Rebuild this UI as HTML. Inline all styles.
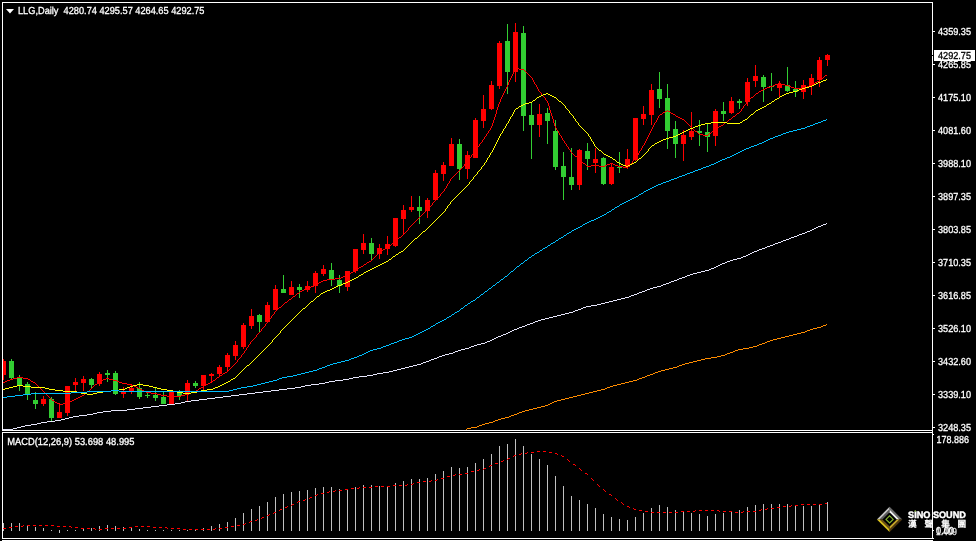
<!DOCTYPE html>
<html lang="en"><head><meta charset="utf-8"><title>LLG Daily</title>
<style>html,body{margin:0;padding:0;background:#000;}body{width:976px;height:541px;overflow:hidden;position:relative;font-family:"Liberation Sans","Noto Sans CJK TC",sans-serif;}svg{position:absolute;left:0;top:0;display:block}text{font-family:"Liberation Sans","Noto Sans CJK TC",sans-serif;}.t{font-size:10.17px;fill:#fff;stroke:#fff;stroke-width:.3px;text-rendering:geometricPrecision;white-space:pre}</style></head><body>
<svg width="976" height="541" viewBox="0 0 976 541">
<rect width="976" height="541" fill="#000"/>
<defs><clipPath id="cm"><rect x="3" y="3" width="929" height="427"/></clipPath><clipPath id="cs"><rect x="3" y="433" width="929" height="105"/></clipPath></defs>
<g shape-rendering="crispEdges" clip-path="url(#cm)">
<rect x="3" y="359" width="1" height="21" fill="#ff0000"/>
<rect x="1" y="361" width="5" height="14" fill="#ff0000"/>
<rect x="11" y="359" width="1" height="20" fill="#32cd32"/>
<rect x="9" y="361" width="5" height="17" fill="#32cd32"/>
<rect x="19" y="375" width="1" height="16" fill="#32cd32"/>
<rect x="17" y="378" width="5" height="8" fill="#32cd32"/>
<rect x="27" y="382" width="1" height="18" fill="#32cd32"/>
<rect x="25" y="384" width="5" height="10" fill="#32cd32"/>
<rect x="35" y="392" width="1" height="17" fill="#32cd32"/>
<rect x="33" y="400" width="5" height="4" fill="#32cd32"/>
<rect x="43" y="396" width="1" height="10" fill="#ff0000"/>
<rect x="41" y="399" width="5" height="5" fill="#ff0000"/>
<rect x="51" y="397" width="1" height="24" fill="#32cd32"/>
<rect x="49" y="399" width="5" height="19" fill="#32cd32"/>
<rect x="59" y="403" width="1" height="15" fill="#ff0000"/>
<rect x="57" y="412" width="5" height="6" fill="#ff0000"/>
<rect x="67" y="386" width="1" height="30" fill="#ff0000"/>
<rect x="65" y="386" width="5" height="27" fill="#ff0000"/>
<rect x="75" y="378" width="1" height="14" fill="#ff0000"/>
<rect x="73" y="382" width="5" height="3" fill="#ff0000"/>
<rect x="83" y="376" width="1" height="15" fill="#ff0000"/>
<rect x="81" y="379" width="5" height="4" fill="#ff0000"/>
<rect x="91" y="378" width="1" height="11" fill="#32cd32"/>
<rect x="89" y="379" width="5" height="6" fill="#32cd32"/>
<rect x="99" y="372" width="1" height="14" fill="#ff0000"/>
<rect x="97" y="374" width="5" height="10" fill="#ff0000"/>
<rect x="107" y="370" width="1" height="12" fill="#32cd32"/>
<rect x="105" y="373" width="5" height="2" fill="#32cd32"/>
<rect x="115" y="371" width="1" height="24" fill="#32cd32"/>
<rect x="113" y="373" width="5" height="21" fill="#32cd32"/>
<rect x="123" y="387" width="1" height="11" fill="#ff0000"/>
<rect x="121" y="392" width="5" height="2" fill="#ff0000"/>
<rect x="131" y="384" width="1" height="10" fill="#ff0000"/>
<rect x="129" y="388" width="5" height="3" fill="#ff0000"/>
<rect x="139" y="382" width="1" height="17" fill="#32cd32"/>
<rect x="137" y="388" width="5" height="9" fill="#32cd32"/>
<rect x="147" y="392" width="1" height="6" fill="#32cd32"/>
<rect x="145" y="395" width="5" height="1" fill="#32cd32"/>
<rect x="155" y="388" width="1" height="13" fill="#32cd32"/>
<rect x="153" y="395" width="5" height="3" fill="#32cd32"/>
<rect x="163" y="392" width="1" height="12" fill="#32cd32"/>
<rect x="161" y="397" width="5" height="7" fill="#32cd32"/>
<rect x="171" y="392" width="1" height="12" fill="#ff0000"/>
<rect x="169" y="392" width="5" height="12" fill="#ff0000"/>
<rect x="179" y="390" width="1" height="10" fill="#32cd32"/>
<rect x="177" y="392" width="5" height="4" fill="#32cd32"/>
<rect x="187" y="380" width="1" height="22" fill="#ff0000"/>
<rect x="185" y="383" width="5" height="11" fill="#ff0000"/>
<rect x="195" y="381" width="1" height="7" fill="#32cd32"/>
<rect x="193" y="383" width="5" height="3" fill="#32cd32"/>
<rect x="203" y="375" width="1" height="16" fill="#ff0000"/>
<rect x="201" y="375" width="5" height="11" fill="#ff0000"/>
<rect x="211" y="373" width="1" height="9" fill="#ff0000"/>
<rect x="209" y="374" width="5" height="2" fill="#ff0000"/>
<rect x="219" y="365" width="1" height="12" fill="#ff0000"/>
<rect x="217" y="367" width="5" height="7" fill="#ff0000"/>
<rect x="227" y="353" width="1" height="18" fill="#ff0000"/>
<rect x="225" y="355" width="5" height="12" fill="#ff0000"/>
<rect x="235" y="341" width="1" height="19" fill="#ff0000"/>
<rect x="233" y="345" width="5" height="11" fill="#ff0000"/>
<rect x="243" y="323" width="1" height="26" fill="#ff0000"/>
<rect x="241" y="325" width="5" height="22" fill="#ff0000"/>
<rect x="251" y="309" width="1" height="20" fill="#ff0000"/>
<rect x="249" y="316" width="5" height="10" fill="#ff0000"/>
<rect x="259" y="314" width="1" height="19" fill="#32cd32"/>
<rect x="257" y="315" width="5" height="7" fill="#32cd32"/>
<rect x="267" y="302" width="1" height="21" fill="#ff0000"/>
<rect x="265" y="305" width="5" height="17" fill="#ff0000"/>
<rect x="275" y="285" width="1" height="25" fill="#ff0000"/>
<rect x="273" y="289" width="5" height="21" fill="#ff0000"/>
<rect x="283" y="275" width="1" height="18" fill="#32cd32"/>
<rect x="281" y="289" width="5" height="4" fill="#32cd32"/>
<rect x="291" y="281" width="1" height="14" fill="#ff0000"/>
<rect x="289" y="287" width="5" height="8" fill="#ff0000"/>
<rect x="299" y="284" width="1" height="14" fill="#32cd32"/>
<rect x="297" y="287" width="5" height="3" fill="#32cd32"/>
<rect x="307" y="281" width="1" height="11" fill="#ff0000"/>
<rect x="305" y="286" width="5" height="4" fill="#ff0000"/>
<rect x="315" y="271" width="1" height="22" fill="#ff0000"/>
<rect x="313" y="273" width="5" height="13" fill="#ff0000"/>
<rect x="323" y="265" width="1" height="11" fill="#ff0000"/>
<rect x="321" y="269" width="5" height="5" fill="#ff0000"/>
<rect x="331" y="263" width="1" height="23" fill="#32cd32"/>
<rect x="329" y="270" width="5" height="10" fill="#32cd32"/>
<rect x="339" y="275" width="1" height="18" fill="#32cd32"/>
<rect x="337" y="280" width="5" height="6" fill="#32cd32"/>
<rect x="347" y="271" width="1" height="20" fill="#ff0000"/>
<rect x="345" y="271" width="5" height="16" fill="#ff0000"/>
<rect x="355" y="249" width="1" height="24" fill="#ff0000"/>
<rect x="353" y="249" width="5" height="22" fill="#ff0000"/>
<rect x="363" y="234" width="1" height="20" fill="#ff0000"/>
<rect x="361" y="243" width="5" height="7" fill="#ff0000"/>
<rect x="371" y="238" width="1" height="22" fill="#32cd32"/>
<rect x="369" y="243" width="5" height="11" fill="#32cd32"/>
<rect x="379" y="244" width="1" height="15" fill="#ff0000"/>
<rect x="377" y="248" width="5" height="6" fill="#ff0000"/>
<rect x="387" y="236" width="1" height="19" fill="#ff0000"/>
<rect x="385" y="244" width="5" height="5" fill="#ff0000"/>
<rect x="395" y="218" width="1" height="29" fill="#ff0000"/>
<rect x="393" y="218" width="5" height="28" fill="#ff0000"/>
<rect x="403" y="205" width="1" height="30" fill="#ff0000"/>
<rect x="401" y="210" width="5" height="9" fill="#ff0000"/>
<rect x="411" y="196" width="1" height="16" fill="#ff0000"/>
<rect x="409" y="207" width="5" height="3" fill="#ff0000"/>
<rect x="419" y="196" width="1" height="28" fill="#32cd32"/>
<rect x="417" y="207" width="5" height="4" fill="#32cd32"/>
<rect x="427" y="198" width="1" height="20" fill="#ff0000"/>
<rect x="425" y="200" width="5" height="11" fill="#ff0000"/>
<rect x="435" y="170" width="1" height="30" fill="#ff0000"/>
<rect x="433" y="173" width="5" height="27" fill="#ff0000"/>
<rect x="443" y="162" width="1" height="19" fill="#ff0000"/>
<rect x="441" y="165" width="5" height="9" fill="#ff0000"/>
<rect x="451" y="138" width="1" height="28" fill="#ff0000"/>
<rect x="449" y="144" width="5" height="22" fill="#ff0000"/>
<rect x="459" y="139" width="1" height="41" fill="#32cd32"/>
<rect x="457" y="144" width="5" height="25" fill="#32cd32"/>
<rect x="467" y="151" width="1" height="28" fill="#ff0000"/>
<rect x="465" y="155" width="5" height="14" fill="#ff0000"/>
<rect x="475" y="118" width="1" height="40" fill="#ff0000"/>
<rect x="473" y="120" width="5" height="38" fill="#ff0000"/>
<rect x="483" y="95" width="1" height="33" fill="#ff0000"/>
<rect x="481" y="109" width="5" height="12" fill="#ff0000"/>
<rect x="491" y="81" width="1" height="29" fill="#ff0000"/>
<rect x="489" y="85" width="5" height="24" fill="#ff0000"/>
<rect x="499" y="41" width="1" height="48" fill="#ff0000"/>
<rect x="497" y="43" width="5" height="43" fill="#ff0000"/>
<rect x="507" y="24" width="1" height="70" fill="#32cd32"/>
<rect x="505" y="41" width="5" height="31" fill="#32cd32"/>
<rect x="515" y="23" width="1" height="59" fill="#ff0000"/>
<rect x="513" y="32" width="5" height="40" fill="#ff0000"/>
<rect x="523" y="26" width="1" height="105" fill="#32cd32"/>
<rect x="521" y="33" width="5" height="83" fill="#32cd32"/>
<rect x="531" y="102" width="1" height="57" fill="#32cd32"/>
<rect x="529" y="115" width="5" height="10" fill="#32cd32"/>
<rect x="539" y="104" width="1" height="33" fill="#ff0000"/>
<rect x="537" y="114" width="5" height="11" fill="#ff0000"/>
<rect x="547" y="108" width="1" height="36" fill="#32cd32"/>
<rect x="545" y="113" width="5" height="8" fill="#32cd32"/>
<rect x="555" y="120" width="1" height="50" fill="#32cd32"/>
<rect x="553" y="131" width="5" height="36" fill="#32cd32"/>
<rect x="563" y="152" width="1" height="48" fill="#32cd32"/>
<rect x="561" y="166" width="5" height="11" fill="#32cd32"/>
<rect x="571" y="148" width="1" height="42" fill="#32cd32"/>
<rect x="569" y="177" width="5" height="8" fill="#32cd32"/>
<rect x="579" y="149" width="1" height="41" fill="#ff0000"/>
<rect x="577" y="150" width="5" height="35" fill="#ff0000"/>
<rect x="587" y="143" width="1" height="27" fill="#32cd32"/>
<rect x="585" y="151" width="5" height="8" fill="#32cd32"/>
<rect x="595" y="148" width="1" height="25" fill="#ff0000"/>
<rect x="593" y="159" width="5" height="4" fill="#ff0000"/>
<rect x="603" y="157" width="1" height="28" fill="#32cd32"/>
<rect x="601" y="158" width="5" height="26" fill="#32cd32"/>
<rect x="611" y="163" width="1" height="22" fill="#ff0000"/>
<rect x="609" y="167" width="5" height="17" fill="#ff0000"/>
<rect x="619" y="152" width="1" height="21" fill="#32cd32"/>
<rect x="617" y="167" width="5" height="1" fill="#32cd32"/>
<rect x="627" y="149" width="1" height="20" fill="#ff0000"/>
<rect x="625" y="159" width="5" height="8" fill="#ff0000"/>
<rect x="635" y="118" width="1" height="43" fill="#ff0000"/>
<rect x="633" y="118" width="5" height="42" fill="#ff0000"/>
<rect x="643" y="106" width="1" height="19" fill="#ff0000"/>
<rect x="641" y="114" width="5" height="5" fill="#ff0000"/>
<rect x="651" y="84" width="1" height="41" fill="#ff0000"/>
<rect x="649" y="90" width="5" height="25" fill="#ff0000"/>
<rect x="659" y="72" width="1" height="36" fill="#32cd32"/>
<rect x="657" y="89" width="5" height="10" fill="#32cd32"/>
<rect x="667" y="84" width="1" height="65" fill="#32cd32"/>
<rect x="665" y="98" width="5" height="33" fill="#32cd32"/>
<rect x="675" y="121" width="1" height="37" fill="#32cd32"/>
<rect x="673" y="129" width="5" height="15" fill="#32cd32"/>
<rect x="683" y="130" width="1" height="31" fill="#ff0000"/>
<rect x="681" y="135" width="5" height="9" fill="#ff0000"/>
<rect x="691" y="112" width="1" height="28" fill="#ff0000"/>
<rect x="689" y="131" width="5" height="6" fill="#ff0000"/>
<rect x="699" y="120" width="1" height="26" fill="#32cd32"/>
<rect x="697" y="131" width="5" height="2" fill="#32cd32"/>
<rect x="707" y="124" width="1" height="28" fill="#32cd32"/>
<rect x="705" y="132" width="5" height="5" fill="#32cd32"/>
<rect x="715" y="109" width="1" height="37" fill="#ff0000"/>
<rect x="713" y="111" width="5" height="25" fill="#ff0000"/>
<rect x="723" y="102" width="1" height="19" fill="#32cd32"/>
<rect x="721" y="111" width="5" height="3" fill="#32cd32"/>
<rect x="731" y="97" width="1" height="17" fill="#ff0000"/>
<rect x="729" y="101" width="5" height="12" fill="#ff0000"/>
<rect x="739" y="99" width="1" height="10" fill="#32cd32"/>
<rect x="737" y="101" width="5" height="2" fill="#32cd32"/>
<rect x="747" y="78" width="1" height="28" fill="#ff0000"/>
<rect x="745" y="82" width="5" height="20" fill="#ff0000"/>
<rect x="755" y="65" width="1" height="22" fill="#ff0000"/>
<rect x="753" y="76" width="5" height="5" fill="#ff0000"/>
<rect x="763" y="75" width="1" height="27" fill="#32cd32"/>
<rect x="761" y="77" width="5" height="10" fill="#32cd32"/>
<rect x="771" y="73" width="1" height="18" fill="#32cd32"/>
<rect x="769" y="86" width="5" height="1" fill="#32cd32"/>
<rect x="779" y="81" width="1" height="17" fill="#ff0000"/>
<rect x="777" y="84" width="5" height="4" fill="#ff0000"/>
<rect x="787" y="67" width="1" height="25" fill="#32cd32"/>
<rect x="785" y="85" width="5" height="6" fill="#32cd32"/>
<rect x="795" y="81" width="1" height="16" fill="#32cd32"/>
<rect x="793" y="89" width="5" height="3" fill="#32cd32"/>
<rect x="803" y="80" width="1" height="19" fill="#ff0000"/>
<rect x="801" y="85" width="5" height="7" fill="#ff0000"/>
<rect x="811" y="74" width="1" height="21" fill="#ff0000"/>
<rect x="809" y="78" width="5" height="8" fill="#ff0000"/>
<rect x="819" y="57" width="1" height="30" fill="#ff0000"/>
<rect x="817" y="60" width="5" height="20" fill="#ff0000"/>
<rect x="827" y="54" width="1" height="12" fill="#ff0000"/>
<rect x="825" y="55" width="5" height="5" fill="#ff0000"/>
</g>
<g shape-rendering="crispEdges" clip-path="url(#cm)">
<path d="M515 68h4v1h-4zM519 69h5v1h-5zM825 75h2v1h-2zM821 78h2v1h-2zM817 81h2v1h-2zM815 82h2v1h-2zM778 83h3v1h-3zM775 84h3v1h-3zM781 84h4v1h-4zM812 84h2v1h-2zM773 85h2v1h-2zM785 85h4v1h-4zM810 85h2v1h-2zM770 86h3v1h-3zM789 86h2v1h-2zM807 86h3v1h-3zM767 87h3v1h-3zM791 87h3v1h-3zM805 87h2v1h-2zM765 88h2v1h-2zM794 88h11v1h-11zM763 89h2v1h-2zM761 90h2v1h-2zM759 91h2v1h-2zM756 93h2v1h-2zM751 97h2v1h-2zM665 111h2v1h-2zM668 111h2v1h-2zM663 112h2v1h-2zM671 113h2v1h-2zM737 113h2v1h-2zM660 114h2v1h-2zM673 114h2v1h-2zM676 116h2v1h-2zM733 116h2v1h-2zM678 117h2v1h-2zM680 118h2v1h-2zM682 119h2v1h-2zM729 119h2v1h-2zM725 122h2v1h-2zM721 125h2v1h-2zM719 126h2v1h-2zM716 128h2v1h-2zM713 130h2v1h-2zM695 131h2v1h-2zM709 133h2v1h-2zM699 134h4v1h-4zM703 135h5v1h-5zM575 156h2v1h-2zM583 163h2v1h-2zM610 163h3v1h-3zM607 164h3v1h-3zM613 164h2v1h-2zM591 165h8v1h-8zM605 165h2v1h-2zM615 165h3v1h-3zM587 166h4v1h-4zM599 166h6v1h-6zM618 166h5v1h-5zM623 167h5v1h-5zM399 237h2v1h-2zM393 242h2v1h-2zM389 245h2v1h-2zM385 248h2v1h-2zM383 249h2v1h-2zM380 251h2v1h-2zM369 261h2v1h-2zM367 262h2v1h-2zM364 264h2v1h-2zM361 266h2v1h-2zM359 267h2v1h-2zM356 269h2v1h-2zM353 271h2v1h-2zM351 272h2v1h-2zM348 274h2v1h-2zM346 275h2v1h-2zM343 276h3v1h-3zM341 277h2v1h-2zM335 278h6v1h-6zM327 279h8v1h-8zM323 280h4v1h-4zM321 281h2v1h-2zM319 282h2v1h-2zM316 284h2v1h-2zM314 285h2v1h-2zM311 286h3v1h-3zM309 287h2v1h-2zM306 288h3v1h-3zM304 289h2v1h-2zM302 290h2v1h-2zM300 291h2v1h-2zM297 293h2v1h-2zM293 296h2v1h-2zM289 299h2v1h-2zM285 302h2v1h-2zM279 307h2v1h-2zM225 372h2v1h-2zM223 373h2v1h-2zM220 375h2v1h-2zM17 377h6v1h-6zM217 377h2v1h-2zM13 378h4v1h-4zM23 378h5v1h-5zM106 378h3v1h-3zM10 379h3v1h-3zM28 379h2v1h-2zM103 379h3v1h-3zM109 379h4v1h-4zM7 380h3v1h-3zM101 380h2v1h-2zM113 380h4v1h-4zM213 380h2v1h-2zM5 381h2v1h-2zM31 381h2v1h-2zM99 381h2v1h-2zM117 381h2v1h-2zM3 382h2v1h-2zM33 382h2v1h-2zM119 382h3v1h-3zM210 382h2v1h-2zM122 383h5v1h-5zM208 383h2v1h-2zM95 384h2v1h-2zM127 384h5v1h-5zM206 384h2v1h-2zM132 385h2v1h-2zM204 385h2v1h-2zM134 386h2v1h-2zM136 387h2v1h-2zM201 387h2v1h-2zM138 388h2v1h-2zM199 388h2v1h-2zM140 389h2v1h-2zM142 390h2v1h-2zM196 390h2v1h-2zM87 391h2v1h-2zM144 391h2v1h-2zM194 391h2v1h-2zM146 392h5v1h-5zM191 392h3v1h-3zM151 393h6v1h-6zM189 393h2v1h-2zM157 394h4v1h-4zM185 394h4v1h-4zM82 395h2v1h-2zM161 395h6v1h-6zM181 395h4v1h-4zM80 396h2v1h-2zM167 396h14v1h-14zM78 397h2v1h-2zM76 398h2v1h-2zM74 399h2v1h-2zM52 400h2v1h-2zM72 400h2v1h-2zM70 401h2v1h-2zM55 402h2v1h-2zM68 402h2v1h-2zM57 403h2v1h-2zM63 403h5v1h-5zM59 404h4v1h-4zM30 380h1v1h-1zM35 383h1v1h-1zM36 384h1v1h-1zM37 385h1v1h-1zM38 386h1v1h-1zM39 387h1v1h-1zM40 388h1v1h-1zM41 389h1v1h-1zM42 390h1v1h-1zM43 391h1v1h-1zM44 392h1v1h-1zM45 393h1v1h-1zM46 394h1v1h-1zM47 395h1v1h-1zM48 396h1v1h-1zM49 397h1v1h-1zM50 398h1v1h-1zM51 399h1v1h-1zM54 401h1v1h-1zM84 394h1v1h-1zM85 393h1v1h-1zM86 392h1v1h-1zM89 390h1v1h-1zM90 389h1v1h-1zM91 388h1v1h-1zM92 387h1v1h-1zM93 386h1v1h-1zM94 385h1v1h-1zM97 383h1v1h-1zM98 382h1v1h-1zM198 389h1v1h-1zM203 386h1v1h-1zM212 381h1v1h-1zM215 379h1v1h-1zM216 378h1v1h-1zM219 376h1v1h-1zM222 374h1v1h-1zM227 371h1v1h-1zM228 370h1v1h-1zM229 369h1v1h-1zM230 368h1v1h-1zM231 367h1v1h-1zM232 366h1v1h-1zM233 365h1v1h-1zM234 364h1v1h-1zM235 363h1v1h-1zM236 362h1v1h-1zM237 360h1v2h-1zM238 359h1v1h-1zM239 358h1v1h-1zM240 357h1v1h-1zM241 355h1v2h-1zM242 354h1v1h-1zM243 353h1v1h-1zM244 351h1v2h-1zM245 350h1v1h-1zM246 348h1v2h-1zM247 347h1v1h-1zM248 345h1v2h-1zM249 344h1v1h-1zM250 342h1v2h-1zM251 341h1v1h-1zM252 340h1v1h-1zM253 339h1v1h-1zM254 338h1v1h-1zM255 337h1v1h-1zM256 335h1v2h-1zM257 334h1v1h-1zM258 333h1v1h-1zM259 332h1v1h-1zM260 331h1v1h-1zM261 329h1v2h-1zM262 328h1v1h-1zM263 327h1v1h-1zM264 326h1v1h-1zM265 324h1v2h-1zM266 323h1v1h-1zM267 322h1v1h-1zM268 321h1v1h-1zM269 319h1v2h-1zM270 318h1v1h-1zM271 316h1v2h-1zM272 315h1v1h-1zM273 314h1v1h-1zM274 312h1v2h-1zM275 311h1v1h-1zM276 310h1v1h-1zM277 309h1v1h-1zM278 308h1v1h-1zM281 306h1v1h-1zM282 305h1v1h-1zM283 304h1v1h-1zM284 303h1v1h-1zM287 301h1v1h-1zM288 300h1v1h-1zM291 298h1v1h-1zM292 297h1v1h-1zM295 295h1v1h-1zM296 294h1v1h-1zM299 292h1v1h-1zM318 283h1v1h-1zM350 273h1v1h-1zM355 270h1v1h-1zM358 268h1v1h-1zM363 265h1v1h-1zM366 263h1v1h-1zM371 260h1v1h-1zM372 259h1v1h-1zM373 258h1v1h-1zM374 257h1v1h-1zM375 256h1v1h-1zM376 255h1v1h-1zM377 254h1v1h-1zM378 253h1v1h-1zM379 252h1v1h-1zM382 250h1v1h-1zM387 247h1v1h-1zM388 246h1v1h-1zM391 244h1v1h-1zM392 243h1v1h-1zM395 241h1v1h-1zM396 240h1v1h-1zM397 239h1v1h-1zM398 238h1v1h-1zM401 236h1v1h-1zM402 235h1v1h-1zM403 234h1v1h-1zM404 233h1v1h-1zM405 232h1v1h-1zM406 231h1v1h-1zM407 230h1v1h-1zM408 228h1v2h-1zM409 227h1v1h-1zM410 226h1v1h-1zM411 225h1v1h-1zM412 224h1v1h-1zM413 223h1v1h-1zM414 222h1v1h-1zM415 221h1v1h-1zM416 220h1v1h-1zM417 219h1v1h-1zM418 218h1v1h-1zM419 217h1v1h-1zM420 216h1v1h-1zM421 215h1v1h-1zM422 214h1v1h-1zM423 213h1v1h-1zM424 212h1v1h-1zM425 211h1v1h-1zM426 210h1v1h-1zM427 209h1v1h-1zM428 208h1v1h-1zM429 207h1v1h-1zM430 206h1v1h-1zM431 205h1v1h-1zM432 203h1v2h-1zM433 202h1v1h-1zM434 201h1v1h-1zM435 200h1v1h-1zM436 199h1v1h-1zM437 198h1v1h-1zM438 197h1v1h-1zM439 196h1v1h-1zM440 194h1v2h-1zM441 193h1v1h-1zM442 192h1v1h-1zM443 191h1v1h-1zM444 189h1v2h-1zM445 188h1v1h-1zM446 186h1v2h-1zM447 184h1v2h-1zM448 183h1v1h-1zM449 181h1v2h-1zM450 179h1v2h-1zM451 178h1v1h-1zM452 177h1v1h-1zM453 176h1v1h-1zM454 175h1v1h-1zM455 174h1v1h-1zM456 173h1v1h-1zM457 172h1v1h-1zM458 171h1v1h-1zM459 170h1v1h-1zM460 169h1v1h-1zM461 168h1v1h-1zM462 167h1v1h-1zM463 166h1v1h-1zM464 164h1v2h-1zM465 163h1v1h-1zM466 162h1v1h-1zM467 161h1v1h-1zM468 160h1v1h-1zM469 158h1v2h-1zM470 157h1v1h-1zM471 155h1v2h-1zM472 154h1v1h-1zM473 153h1v1h-1zM474 151h1v2h-1zM475 150h1v1h-1zM476 149h1v1h-1zM477 147h1v2h-1zM478 146h1v1h-1zM479 144h1v2h-1zM480 143h1v1h-1zM481 142h1v1h-1zM482 140h1v2h-1zM483 139h1v1h-1zM484 137h1v2h-1zM485 136h1v1h-1zM486 134h1v2h-1zM487 133h1v1h-1zM488 131h1v2h-1zM489 130h1v1h-1zM490 128h1v2h-1zM491 126h1v2h-1zM492 123h1v3h-1zM493 120h1v3h-1zM494 117h1v3h-1zM495 114h1v3h-1zM496 110h1v4h-1zM497 107h1v3h-1zM498 104h1v3h-1zM499 102h1v2h-1zM500 99h1v3h-1zM501 97h1v2h-1zM502 95h1v2h-1zM503 93h1v2h-1zM504 91h1v2h-1zM505 89h1v2h-1zM506 87h1v2h-1zM507 85h1v2h-1zM508 82h1v3h-1zM509 80h1v2h-1zM510 78h1v2h-1zM511 76h1v2h-1zM512 74h1v2h-1zM513 72h1v2h-1zM514 70h1v2h-1zM515 69h1v1h-1zM524 70h1v1h-1zM525 71h1v1h-1zM526 72h1v1h-1zM527 73h1v1h-1zM528 74h1v1h-1zM529 75h1v1h-1zM530 76h1v1h-1zM531 77h1v1h-1zM532 78h1v2h-1zM533 80h1v2h-1zM534 82h1v2h-1zM535 84h1v1h-1zM536 85h1v2h-1zM537 87h1v2h-1zM538 89h1v2h-1zM539 91h1v1h-1zM540 92h1v1h-1zM541 93h1v2h-1zM542 95h1v1h-1zM543 96h1v1h-1zM544 97h1v1h-1zM545 98h1v2h-1zM546 100h1v1h-1zM547 101h1v2h-1zM548 103h1v3h-1zM549 106h1v4h-1zM550 110h1v3h-1zM551 113h1v3h-1zM552 116h1v3h-1zM553 119h1v4h-1zM554 123h1v3h-1zM555 126h1v2h-1zM556 128h1v2h-1zM557 130h1v1h-1zM558 131h1v2h-1zM559 133h1v2h-1zM560 135h1v1h-1zM561 136h1v2h-1zM562 138h1v2h-1zM563 140h1v1h-1zM564 141h1v2h-1zM565 143h1v1h-1zM566 144h1v2h-1zM567 146h1v1h-1zM568 147h1v2h-1zM569 149h1v1h-1zM570 150h1v2h-1zM571 152h1v1h-1zM572 153h1v1h-1zM573 154h1v1h-1zM574 155h1v1h-1zM577 157h1v1h-1zM578 158h1v1h-1zM579 159h1v1h-1zM580 160h1v1h-1zM581 161h1v1h-1zM582 162h1v1h-1zM585 164h1v1h-1zM586 165h1v1h-1zM628 166h1v1h-1zM629 165h1v1h-1zM630 164h1v1h-1zM631 163h1v1h-1zM632 161h1v2h-1zM633 160h1v1h-1zM634 159h1v1h-1zM635 158h1v1h-1zM636 156h1v2h-1zM637 155h1v1h-1zM638 153h1v2h-1zM639 151h1v2h-1zM640 150h1v1h-1zM641 148h1v2h-1zM642 146h1v2h-1zM643 145h1v1h-1zM644 143h1v2h-1zM645 141h1v2h-1zM646 139h1v2h-1zM647 137h1v2h-1zM648 135h1v2h-1zM649 133h1v2h-1zM650 131h1v2h-1zM651 129h1v2h-1zM652 127h1v2h-1zM653 125h1v2h-1zM654 123h1v2h-1zM655 122h1v1h-1zM656 120h1v2h-1zM657 118h1v2h-1zM658 116h1v2h-1zM659 115h1v1h-1zM662 113h1v1h-1zM667 110h1v1h-1zM670 112h1v1h-1zM675 115h1v1h-1zM684 120h1v1h-1zM685 121h1v1h-1zM686 122h1v1h-1zM687 123h1v1h-1zM688 124h1v1h-1zM689 125h1v1h-1zM690 126h1v1h-1zM691 127h1v1h-1zM692 128h1v1h-1zM693 129h1v1h-1zM694 130h1v1h-1zM697 132h1v1h-1zM698 133h1v1h-1zM708 134h1v1h-1zM711 132h1v1h-1zM712 131h1v1h-1zM715 129h1v1h-1zM718 127h1v1h-1zM723 124h1v1h-1zM724 123h1v1h-1zM727 121h1v1h-1zM728 120h1v1h-1zM731 118h1v1h-1zM732 117h1v1h-1zM735 115h1v1h-1zM736 114h1v1h-1zM739 112h1v1h-1zM740 111h1v1h-1zM741 109h1v2h-1zM742 108h1v1h-1zM743 106h1v2h-1zM744 105h1v1h-1zM745 104h1v1h-1zM746 102h1v2h-1zM747 101h1v1h-1zM748 100h1v1h-1zM749 99h1v1h-1zM750 98h1v1h-1zM753 96h1v1h-1zM754 95h1v1h-1zM755 94h1v1h-1zM758 92h1v1h-1zM814 83h1v1h-1zM819 80h1v1h-1zM820 79h1v1h-1zM823 77h1v1h-1zM824 76h1v1h-1z" fill="#ff0000"/>
<path d="M823 80h3v1h-3zM821 81h2v1h-2zM818 82h3v1h-3zM816 83h2v1h-2zM814 84h2v1h-2zM812 85h2v1h-2zM809 86h3v1h-3zM805 87h4v1h-4zM802 88h3v1h-3zM799 89h3v1h-3zM797 90h2v1h-2zM793 91h4v1h-4zM789 92h4v1h-4zM546 93h2v1h-2zM786 93h3v1h-3zM543 94h3v1h-3zM548 94h2v1h-2zM784 94h2v1h-2zM541 95h2v1h-2zM550 95h2v1h-2zM782 95h2v1h-2zM539 96h2v1h-2zM552 96h2v1h-2zM780 96h2v1h-2zM537 97h2v1h-2zM554 97h2v1h-2zM777 98h2v1h-2zM775 99h2v1h-2zM533 100h2v1h-2zM559 101h2v1h-2zM772 101h2v1h-2zM529 102h3v1h-3zM525 103h4v1h-4zM769 103h2v1h-2zM523 104h2v1h-2zM767 104h2v1h-2zM521 105h2v1h-2zM519 106h2v1h-2zM764 106h2v1h-2zM762 107h2v1h-2zM516 108h2v1h-2zM760 108h2v1h-2zM758 109h2v1h-2zM756 110h2v1h-2zM751 114h2v1h-2zM745 119h2v1h-2zM743 120h2v1h-2zM711 122h16v1h-16zM740 122h2v1h-2zM705 123h6v1h-6zM727 123h13v1h-13zM701 124h4v1h-4zM698 125h3v1h-3zM695 126h3v1h-3zM693 127h2v1h-2zM690 128h3v1h-3zM688 129h2v1h-2zM686 130h2v1h-2zM684 131h2v1h-2zM682 132h2v1h-2zM680 133h2v1h-2zM678 134h2v1h-2zM676 135h2v1h-2zM673 136h3v1h-3zM669 137h4v1h-4zM666 138h3v1h-3zM663 139h3v1h-3zM661 140h2v1h-2zM659 141h2v1h-2zM657 142h2v1h-2zM655 143h2v1h-2zM652 145h2v1h-2zM599 150h2v1h-2zM604 154h2v1h-2zM606 155h2v1h-2zM608 156h2v1h-2zM610 157h2v1h-2zM639 158h2v1h-2zM613 159h2v1h-2zM617 162h2v1h-2zM634 162h2v1h-2zM619 163h2v1h-2zM632 163h2v1h-2zM621 164h2v1h-2zM630 164h2v1h-2zM623 165h3v1h-3zM628 165h2v1h-2zM626 166h2v1h-2zM423 231h2v1h-2zM415 238h2v1h-2zM401 251h2v1h-2zM399 252h2v1h-2zM396 254h2v1h-2zM393 256h2v1h-2zM389 259h2v1h-2zM386 261h2v1h-2zM384 262h2v1h-2zM382 263h2v1h-2zM380 264h2v1h-2zM378 265h2v1h-2zM376 266h2v1h-2zM374 267h2v1h-2zM372 268h2v1h-2zM370 269h2v1h-2zM368 270h2v1h-2zM366 271h2v1h-2zM364 272h2v1h-2zM361 274h2v1h-2zM359 275h2v1h-2zM356 277h2v1h-2zM354 278h2v1h-2zM352 279h2v1h-2zM350 280h2v1h-2zM348 281h2v1h-2zM346 282h2v1h-2zM343 283h3v1h-3zM341 284h2v1h-2zM338 285h3v1h-3zM336 286h2v1h-2zM334 287h2v1h-2zM332 288h2v1h-2zM330 289h2v1h-2zM327 290h3v1h-3zM325 291h2v1h-2zM323 292h2v1h-2zM321 293h2v1h-2zM317 296h2v1h-2zM311 301h2v1h-2zM303 308h2v1h-2zM247 365h2v1h-2zM233 378h2v1h-2zM231 379h2v1h-2zM228 381h2v1h-2zM226 382h2v1h-2zM224 383h2v1h-2zM137 384h6v1h-6zM222 384h2v1h-2zM17 385h6v1h-6zM133 385h4v1h-4zM143 385h6v1h-6zM220 385h2v1h-2zM13 386h4v1h-4zM23 386h8v1h-8zM130 386h3v1h-3zM149 386h4v1h-4zM218 386h2v1h-2zM9 387h4v1h-4zM31 387h14v1h-14zM127 387h3v1h-3zM153 387h4v1h-4zM215 387h3v1h-3zM5 388h4v1h-4zM45 388h4v1h-4zM125 388h2v1h-2zM157 388h4v1h-4zM213 388h2v1h-2zM3 389h2v1h-2zM49 389h6v1h-6zM119 389h6v1h-6zM161 389h6v1h-6zM207 389h6v1h-6zM55 390h8v1h-8zM111 390h8v1h-8zM167 390h6v1h-6zM201 390h6v1h-6zM63 391h14v1h-14zM103 391h8v1h-8zM173 391h4v1h-4zM197 391h4v1h-4zM77 392h4v1h-4zM97 392h6v1h-6zM177 392h6v1h-6zM191 392h6v1h-6zM81 393h6v1h-6zM93 393h4v1h-4zM183 393h8v1h-8zM87 394h6v1h-6zM230 380h1v1h-1zM235 377h1v1h-1zM236 376h1v1h-1zM237 375h1v1h-1zM238 374h1v1h-1zM239 373h1v1h-1zM240 372h1v1h-1zM241 371h1v1h-1zM242 370h1v1h-1zM243 369h1v1h-1zM244 368h1v1h-1zM245 367h1v1h-1zM246 366h1v1h-1zM249 364h1v1h-1zM250 363h1v1h-1zM251 362h1v1h-1zM252 361h1v1h-1zM253 360h1v1h-1zM254 359h1v1h-1zM255 358h1v1h-1zM256 357h1v1h-1zM257 356h1v1h-1zM258 355h1v1h-1zM259 354h1v1h-1zM260 353h1v1h-1zM261 352h1v1h-1zM262 351h1v1h-1zM263 350h1v1h-1zM264 349h1v1h-1zM265 348h1v1h-1zM266 347h1v1h-1zM267 346h1v1h-1zM268 345h1v1h-1zM269 344h1v1h-1zM270 343h1v1h-1zM271 342h1v1h-1zM272 340h1v2h-1zM273 339h1v1h-1zM274 338h1v1h-1zM275 337h1v1h-1zM276 336h1v1h-1zM277 335h1v1h-1zM278 334h1v1h-1zM279 333h1v1h-1zM280 331h1v2h-1zM281 330h1v1h-1zM282 329h1v1h-1zM283 328h1v1h-1zM284 327h1v1h-1zM285 326h1v1h-1zM286 325h1v1h-1zM287 324h1v1h-1zM288 323h1v1h-1zM289 322h1v1h-1zM290 321h1v1h-1zM291 320h1v1h-1zM292 319h1v1h-1zM293 318h1v1h-1zM294 317h1v1h-1zM295 316h1v1h-1zM296 315h1v1h-1zM297 314h1v1h-1zM298 313h1v1h-1zM299 312h1v1h-1zM300 311h1v1h-1zM301 310h1v1h-1zM302 309h1v1h-1zM305 307h1v1h-1zM306 306h1v1h-1zM307 305h1v1h-1zM308 304h1v1h-1zM309 303h1v1h-1zM310 302h1v1h-1zM313 300h1v1h-1zM314 299h1v1h-1zM315 298h1v1h-1zM316 297h1v1h-1zM319 295h1v1h-1zM320 294h1v1h-1zM358 276h1v1h-1zM363 273h1v1h-1zM388 260h1v1h-1zM391 258h1v1h-1zM392 257h1v1h-1zM395 255h1v1h-1zM398 253h1v1h-1zM403 250h1v1h-1zM404 249h1v1h-1zM405 248h1v1h-1zM406 247h1v1h-1zM407 246h1v1h-1zM408 245h1v1h-1zM409 244h1v1h-1zM410 243h1v1h-1zM411 242h1v1h-1zM412 241h1v1h-1zM413 240h1v1h-1zM414 239h1v1h-1zM417 237h1v1h-1zM418 236h1v1h-1zM419 235h1v1h-1zM420 234h1v1h-1zM421 233h1v1h-1zM422 232h1v1h-1zM425 230h1v1h-1zM426 229h1v1h-1zM427 228h1v1h-1zM428 227h1v1h-1zM429 226h1v1h-1zM430 225h1v1h-1zM431 224h1v1h-1zM432 223h1v1h-1zM433 222h1v1h-1zM434 221h1v1h-1zM435 220h1v1h-1zM436 219h1v1h-1zM437 218h1v1h-1zM438 217h1v1h-1zM439 216h1v1h-1zM440 215h1v1h-1zM441 214h1v1h-1zM442 213h1v1h-1zM443 212h1v1h-1zM444 211h1v1h-1zM445 209h1v2h-1zM446 208h1v1h-1zM447 206h1v2h-1zM448 205h1v1h-1zM449 204h1v1h-1zM450 202h1v2h-1zM451 201h1v1h-1zM452 200h1v1h-1zM453 199h1v1h-1zM454 198h1v1h-1zM455 197h1v1h-1zM456 196h1v1h-1zM457 195h1v1h-1zM458 194h1v1h-1zM459 193h1v1h-1zM460 192h1v1h-1zM461 191h1v1h-1zM462 190h1v1h-1zM463 189h1v1h-1zM464 188h1v1h-1zM465 187h1v1h-1zM466 186h1v1h-1zM467 185h1v1h-1zM468 184h1v1h-1zM469 182h1v2h-1zM470 181h1v1h-1zM471 180h1v1h-1zM472 179h1v1h-1zM473 177h1v2h-1zM474 176h1v1h-1zM475 175h1v1h-1zM476 174h1v1h-1zM477 172h1v2h-1zM478 171h1v1h-1zM479 170h1v1h-1zM480 169h1v1h-1zM481 167h1v2h-1zM482 166h1v1h-1zM483 165h1v1h-1zM484 163h1v2h-1zM485 162h1v1h-1zM486 160h1v2h-1zM487 158h1v2h-1zM488 157h1v1h-1zM489 155h1v2h-1zM490 153h1v2h-1zM491 152h1v1h-1zM492 150h1v2h-1zM493 148h1v2h-1zM494 146h1v2h-1zM495 144h1v2h-1zM496 142h1v2h-1zM497 140h1v2h-1zM498 138h1v2h-1zM499 136h1v2h-1zM500 134h1v2h-1zM501 133h1v1h-1zM502 131h1v2h-1zM503 129h1v2h-1zM504 128h1v1h-1zM505 126h1v2h-1zM506 124h1v2h-1zM507 123h1v1h-1zM508 121h1v2h-1zM509 119h1v2h-1zM510 117h1v2h-1zM511 116h1v1h-1zM512 114h1v2h-1zM513 112h1v2h-1zM514 110h1v2h-1zM515 109h1v1h-1zM518 107h1v1h-1zM532 101h1v1h-1zM535 99h1v1h-1zM536 98h1v1h-1zM556 98h1v1h-1zM557 99h1v1h-1zM558 100h1v1h-1zM561 102h1v1h-1zM562 103h1v1h-1zM563 104h1v1h-1zM564 105h1v1h-1zM565 106h1v2h-1zM566 108h1v1h-1zM567 109h1v1h-1zM568 110h1v1h-1zM569 111h1v2h-1zM570 113h1v1h-1zM571 114h1v1h-1zM572 115h1v1h-1zM573 116h1v2h-1zM574 118h1v1h-1zM575 119h1v2h-1zM576 121h1v1h-1zM577 122h1v1h-1zM578 123h1v2h-1zM579 125h1v1h-1zM580 126h1v1h-1zM581 127h1v1h-1zM582 128h1v1h-1zM583 129h1v1h-1zM584 130h1v1h-1zM585 131h1v1h-1zM586 132h1v1h-1zM587 133h1v1h-1zM588 134h1v2h-1zM589 136h1v1h-1zM590 137h1v2h-1zM591 139h1v2h-1zM592 141h1v1h-1zM593 142h1v2h-1zM594 144h1v2h-1zM595 146h1v1h-1zM596 147h1v1h-1zM597 148h1v1h-1zM598 149h1v1h-1zM601 151h1v1h-1zM602 152h1v1h-1zM603 153h1v1h-1zM612 158h1v1h-1zM615 160h1v1h-1zM616 161h1v1h-1zM636 161h1v1h-1zM637 160h1v1h-1zM638 159h1v1h-1zM641 157h1v1h-1zM642 156h1v1h-1zM643 155h1v1h-1zM644 154h1v1h-1zM645 153h1v1h-1zM646 152h1v1h-1zM647 151h1v1h-1zM648 149h1v2h-1zM649 148h1v1h-1zM650 147h1v1h-1zM651 146h1v1h-1zM654 144h1v1h-1zM742 121h1v1h-1zM747 118h1v1h-1zM748 117h1v1h-1zM749 116h1v1h-1zM750 115h1v1h-1zM753 113h1v1h-1zM754 112h1v1h-1zM755 111h1v1h-1zM766 105h1v1h-1zM771 102h1v1h-1zM774 100h1v1h-1zM779 97h1v1h-1zM826 79h1v1h-1z" fill="#ffff00"/>
<path d="M823 120h3v1h-3zM821 121h2v1h-2zM818 122h3v1h-3zM815 123h3v1h-3zM813 124h2v1h-2zM810 125h3v1h-3zM807 126h3v1h-3zM805 127h2v1h-2zM801 128h4v1h-4zM797 129h4v1h-4zM793 130h4v1h-4zM789 131h4v1h-4zM786 132h3v1h-3zM783 133h3v1h-3zM781 134h2v1h-2zM778 135h3v1h-3zM775 136h3v1h-3zM773 137h2v1h-2zM770 138h3v1h-3zM768 139h2v1h-2zM766 140h2v1h-2zM764 141h2v1h-2zM762 142h2v1h-2zM759 143h3v1h-3zM757 144h2v1h-2zM754 145h3v1h-3zM751 146h3v1h-3zM749 147h2v1h-2zM746 148h3v1h-3zM744 149h2v1h-2zM742 150h2v1h-2zM740 151h2v1h-2zM738 152h2v1h-2zM736 153h2v1h-2zM734 154h2v1h-2zM732 155h2v1h-2zM730 156h2v1h-2zM727 157h3v1h-3zM725 158h2v1h-2zM722 159h3v1h-3zM720 160h2v1h-2zM718 161h2v1h-2zM716 162h2v1h-2zM714 163h2v1h-2zM711 164h3v1h-3zM709 165h2v1h-2zM706 166h3v1h-3zM703 167h3v1h-3zM701 168h2v1h-2zM698 169h3v1h-3zM695 170h3v1h-3zM693 171h2v1h-2zM690 172h3v1h-3zM687 173h3v1h-3zM685 174h2v1h-2zM682 175h3v1h-3zM679 176h3v1h-3zM677 177h2v1h-2zM674 178h3v1h-3zM671 179h3v1h-3zM669 180h2v1h-2zM666 181h3v1h-3zM663 182h3v1h-3zM661 183h2v1h-2zM658 184h3v1h-3zM656 185h2v1h-2zM654 186h2v1h-2zM652 187h2v1h-2zM650 188h2v1h-2zM648 189h2v1h-2zM646 190h2v1h-2zM644 191h2v1h-2zM641 193h2v1h-2zM639 194h2v1h-2zM636 196h2v1h-2zM634 197h2v1h-2zM632 198h2v1h-2zM630 199h2v1h-2zM628 200h2v1h-2zM626 201h2v1h-2zM624 202h2v1h-2zM622 203h2v1h-2zM620 204h2v1h-2zM617 206h2v1h-2zM615 207h2v1h-2zM612 209h2v1h-2zM609 211h2v1h-2zM607 212h2v1h-2zM604 214h2v1h-2zM602 215h2v1h-2zM600 216h2v1h-2zM598 217h2v1h-2zM596 218h2v1h-2zM594 219h2v1h-2zM591 220h3v1h-3zM589 221h2v1h-2zM587 222h2v1h-2zM585 223h2v1h-2zM583 224h2v1h-2zM580 226h2v1h-2zM578 227h2v1h-2zM576 228h2v1h-2zM574 229h2v1h-2zM572 230h2v1h-2zM569 232h2v1h-2zM567 233h2v1h-2zM564 235h2v1h-2zM561 237h2v1h-2zM559 238h2v1h-2zM556 240h2v1h-2zM553 242h2v1h-2zM551 243h2v1h-2zM548 245h2v1h-2zM545 247h2v1h-2zM543 248h2v1h-2zM540 250h2v1h-2zM537 252h2v1h-2zM535 253h2v1h-2zM532 255h2v1h-2zM529 257h2v1h-2zM525 260h2v1h-2zM521 263h2v1h-2zM517 266h2v1h-2zM511 271h2v1h-2zM505 276h2v1h-2zM501 279h2v1h-2zM497 282h2v1h-2zM493 285h2v1h-2zM489 288h2v1h-2zM485 291h2v1h-2zM481 294h2v1h-2zM477 297h2v1h-2zM473 300h2v1h-2zM471 301h2v1h-2zM468 303h2v1h-2zM465 305h2v1h-2zM461 308h2v1h-2zM457 311h2v1h-2zM455 312h2v1h-2zM452 314h2v1h-2zM449 316h2v1h-2zM447 317h2v1h-2zM444 319h2v1h-2zM442 320h2v1h-2zM440 321h2v1h-2zM438 322h2v1h-2zM436 323h2v1h-2zM433 325h2v1h-2zM431 326h2v1h-2zM428 328h2v1h-2zM426 329h2v1h-2zM424 330h2v1h-2zM422 331h2v1h-2zM420 332h2v1h-2zM418 333h2v1h-2zM416 334h2v1h-2zM414 335h2v1h-2zM412 336h2v1h-2zM409 337h3v1h-3zM405 338h4v1h-4zM402 339h3v1h-3zM399 340h3v1h-3zM397 341h2v1h-2zM394 342h3v1h-3zM391 343h3v1h-3zM389 344h2v1h-2zM386 345h3v1h-3zM383 346h3v1h-3zM381 347h2v1h-2zM377 348h4v1h-4zM373 349h4v1h-4zM370 350h3v1h-3zM368 351h2v1h-2zM366 352h2v1h-2zM364 353h2v1h-2zM362 354h2v1h-2zM359 355h3v1h-3zM357 356h2v1h-2zM354 357h3v1h-3zM351 358h3v1h-3zM349 359h2v1h-2zM345 360h4v1h-4zM341 361h4v1h-4zM337 362h4v1h-4zM333 363h4v1h-4zM330 364h3v1h-3zM327 365h3v1h-3zM325 366h2v1h-2zM322 367h3v1h-3zM319 368h3v1h-3zM317 369h2v1h-2zM313 370h4v1h-4zM309 371h4v1h-4zM305 372h4v1h-4zM301 373h4v1h-4zM297 374h4v1h-4zM293 375h4v1h-4zM287 376h6v1h-6zM282 377h5v1h-5zM279 378h3v1h-3zM277 379h2v1h-2zM273 380h4v1h-4zM269 381h4v1h-4zM265 382h4v1h-4zM261 383h4v1h-4zM257 384h4v1h-4zM253 385h4v1h-4zM247 386h6v1h-6zM241 387h6v1h-6zM237 388h4v1h-4zM233 389h4v1h-4zM111 390h8v1h-8zM229 390h4v1h-4zM87 391h24v1h-24zM119 391h110v1h-110zM71 392h16v1h-16zM31 393h40v1h-40zM23 394h8v1h-8zM15 395h8v1h-8zM7 396h8v1h-8zM3 397h4v1h-4zM430 327h1v1h-1zM435 324h1v1h-1zM446 318h1v1h-1zM451 315h1v1h-1zM454 313h1v1h-1zM459 310h1v1h-1zM460 309h1v1h-1zM463 307h1v1h-1zM464 306h1v1h-1zM467 304h1v1h-1zM470 302h1v1h-1zM475 299h1v1h-1zM476 298h1v1h-1zM479 296h1v1h-1zM480 295h1v1h-1zM483 293h1v1h-1zM484 292h1v1h-1zM487 290h1v1h-1zM488 289h1v1h-1zM491 287h1v1h-1zM492 286h1v1h-1zM495 284h1v1h-1zM496 283h1v1h-1zM499 281h1v1h-1zM500 280h1v1h-1zM503 278h1v1h-1zM504 277h1v1h-1zM507 275h1v1h-1zM508 274h1v1h-1zM509 273h1v1h-1zM510 272h1v1h-1zM513 270h1v1h-1zM514 269h1v1h-1zM515 268h1v1h-1zM516 267h1v1h-1zM519 265h1v1h-1zM520 264h1v1h-1zM523 262h1v1h-1zM524 261h1v1h-1zM527 259h1v1h-1zM528 258h1v1h-1zM531 256h1v1h-1zM534 254h1v1h-1zM539 251h1v1h-1zM542 249h1v1h-1zM547 246h1v1h-1zM550 244h1v1h-1zM555 241h1v1h-1zM558 239h1v1h-1zM563 236h1v1h-1zM566 234h1v1h-1zM571 231h1v1h-1zM582 225h1v1h-1zM606 213h1v1h-1zM611 210h1v1h-1zM614 208h1v1h-1zM619 205h1v1h-1zM638 195h1v1h-1zM643 192h1v1h-1zM826 119h1v1h-1z" fill="#00bfff"/>
<path d="M823 224h3v1h-3zM821 225h2v1h-2zM818 226h3v1h-3zM816 227h2v1h-2zM814 228h2v1h-2zM812 229h2v1h-2zM810 230h2v1h-2zM807 231h3v1h-3zM805 232h2v1h-2zM802 233h3v1h-3zM799 234h3v1h-3zM797 235h2v1h-2zM794 236h3v1h-3zM791 237h3v1h-3zM789 238h2v1h-2zM786 239h3v1h-3zM783 240h3v1h-3zM781 241h2v1h-2zM778 242h3v1h-3zM775 243h3v1h-3zM773 244h2v1h-2zM770 245h3v1h-3zM767 246h3v1h-3zM765 247h2v1h-2zM762 248h3v1h-3zM759 249h3v1h-3zM757 250h2v1h-2zM754 251h3v1h-3zM752 252h2v1h-2zM750 253h2v1h-2zM748 254h2v1h-2zM746 255h2v1h-2zM743 256h3v1h-3zM741 257h2v1h-2zM737 258h4v1h-4zM733 259h4v1h-4zM730 260h3v1h-3zM727 261h3v1h-3zM725 262h2v1h-2zM722 263h3v1h-3zM720 264h2v1h-2zM718 265h2v1h-2zM716 266h2v1h-2zM714 267h2v1h-2zM711 268h3v1h-3zM709 269h2v1h-2zM705 270h4v1h-4zM701 271h4v1h-4zM697 272h4v1h-4zM693 273h4v1h-4zM690 274h3v1h-3zM687 275h3v1h-3zM685 276h2v1h-2zM682 277h3v1h-3zM679 278h3v1h-3zM677 279h2v1h-2zM674 280h3v1h-3zM671 281h3v1h-3zM669 282h2v1h-2zM666 283h3v1h-3zM663 284h3v1h-3zM661 285h2v1h-2zM657 286h4v1h-4zM653 287h4v1h-4zM650 288h3v1h-3zM647 289h3v1h-3zM645 290h2v1h-2zM642 291h3v1h-3zM639 292h3v1h-3zM637 293h2v1h-2zM634 294h3v1h-3zM631 295h3v1h-3zM629 296h2v1h-2zM625 297h4v1h-4zM621 298h4v1h-4zM617 299h4v1h-4zM613 300h4v1h-4zM609 301h4v1h-4zM605 302h4v1h-4zM601 303h4v1h-4zM597 304h4v1h-4zM591 305h6v1h-6zM586 306h5v1h-5zM583 307h3v1h-3zM581 308h2v1h-2zM578 309h3v1h-3zM575 310h3v1h-3zM573 311h2v1h-2zM569 312h4v1h-4zM565 313h4v1h-4zM561 314h4v1h-4zM557 315h4v1h-4zM553 316h4v1h-4zM549 317h4v1h-4zM545 318h4v1h-4zM541 319h4v1h-4zM538 320h3v1h-3zM535 321h3v1h-3zM533 322h2v1h-2zM530 323h3v1h-3zM527 324h3v1h-3zM525 325h2v1h-2zM522 326h3v1h-3zM519 327h3v1h-3zM517 328h2v1h-2zM514 329h3v1h-3zM512 330h2v1h-2zM510 331h2v1h-2zM508 332h2v1h-2zM506 333h2v1h-2zM503 334h3v1h-3zM501 335h2v1h-2zM498 336h3v1h-3zM496 337h2v1h-2zM494 338h2v1h-2zM492 339h2v1h-2zM490 340h2v1h-2zM487 341h3v1h-3zM485 342h2v1h-2zM481 343h4v1h-4zM477 344h4v1h-4zM474 345h3v1h-3zM471 346h3v1h-3zM469 347h2v1h-2zM465 348h4v1h-4zM461 349h4v1h-4zM458 350h3v1h-3zM455 351h3v1h-3zM453 352h2v1h-2zM449 353h4v1h-4zM445 354h4v1h-4zM442 355h3v1h-3zM439 356h3v1h-3zM437 357h2v1h-2zM434 358h3v1h-3zM431 359h3v1h-3zM429 360h2v1h-2zM426 361h3v1h-3zM423 362h3v1h-3zM421 363h2v1h-2zM417 364h4v1h-4zM413 365h4v1h-4zM409 366h4v1h-4zM405 367h4v1h-4zM401 368h4v1h-4zM397 369h4v1h-4zM393 370h4v1h-4zM389 371h4v1h-4zM383 372h6v1h-6zM377 373h6v1h-6zM373 374h4v1h-4zM367 375h6v1h-6zM359 376h8v1h-8zM353 377h6v1h-6zM349 378h4v1h-4zM343 379h6v1h-6zM335 380h8v1h-8zM329 381h6v1h-6zM325 382h4v1h-4zM319 383h6v1h-6zM311 384h8v1h-8zM305 385h6v1h-6zM301 386h4v1h-4zM295 387h6v1h-6zM287 388h8v1h-8zM279 389h8v1h-8zM271 390h8v1h-8zM263 391h8v1h-8zM255 392h8v1h-8zM247 393h8v1h-8zM239 394h8v1h-8zM231 395h8v1h-8zM223 396h8v1h-8zM215 397h8v1h-8zM207 398h8v1h-8zM199 399h8v1h-8zM191 400h8v1h-8zM185 401h6v1h-6zM181 402h4v1h-4zM175 403h6v1h-6zM167 404h8v1h-8zM159 405h8v1h-8zM151 406h8v1h-8zM143 407h8v1h-8zM135 408h8v1h-8zM127 409h8v1h-8zM111 410h16v1h-16zM103 411h8v1h-8zM97 412h6v1h-6zM93 413h4v1h-4zM87 414h6v1h-6zM79 415h8v1h-8zM73 416h6v1h-6zM69 417h4v1h-4zM65 418h4v1h-4zM61 419h4v1h-4zM55 420h6v1h-6zM47 421h8v1h-8zM41 422h6v1h-6zM37 423h4v1h-4zM31 424h6v1h-6zM25 425h6v1h-6zM21 426h4v1h-4zM17 427h4v1h-4zM13 428h4v1h-4zM3 429h10v1h-10zM826 223h1v1h-1z" fill="#e6e6fa"/>
<path d="M823 325h3v1h-3zM821 326h2v1h-2zM817 327h4v1h-4zM813 328h4v1h-4zM810 329h3v1h-3zM807 330h3v1h-3zM805 331h2v1h-2zM801 332h4v1h-4zM797 333h4v1h-4zM793 334h4v1h-4zM789 335h4v1h-4zM785 336h4v1h-4zM781 337h4v1h-4zM777 338h4v1h-4zM773 339h4v1h-4zM770 340h3v1h-3zM767 341h3v1h-3zM765 342h2v1h-2zM762 343h3v1h-3zM759 344h3v1h-3zM757 345h2v1h-2zM753 346h4v1h-4zM749 347h4v1h-4zM743 348h6v1h-6zM738 349h5v1h-5zM735 350h3v1h-3zM733 351h2v1h-2zM730 352h3v1h-3zM727 353h3v1h-3zM725 354h2v1h-2zM721 355h4v1h-4zM717 356h4v1h-4zM711 357h6v1h-6zM705 358h6v1h-6zM701 359h4v1h-4zM697 360h4v1h-4zM693 361h4v1h-4zM689 362h4v1h-4zM685 363h4v1h-4zM682 364h3v1h-3zM679 365h3v1h-3zM677 366h2v1h-2zM673 367h4v1h-4zM669 368h4v1h-4zM665 369h4v1h-4zM661 370h4v1h-4zM658 371h3v1h-3zM655 372h3v1h-3zM653 373h2v1h-2zM650 374h3v1h-3zM647 375h3v1h-3zM645 376h2v1h-2zM642 377h3v1h-3zM639 378h3v1h-3zM637 379h2v1h-2zM633 380h4v1h-4zM629 381h4v1h-4zM625 382h4v1h-4zM621 383h4v1h-4zM617 384h4v1h-4zM613 385h4v1h-4zM610 386h3v1h-3zM607 387h3v1h-3zM605 388h2v1h-2zM601 389h4v1h-4zM597 390h4v1h-4zM593 391h4v1h-4zM589 392h4v1h-4zM585 393h4v1h-4zM581 394h4v1h-4zM577 395h4v1h-4zM573 396h4v1h-4zM569 397h4v1h-4zM565 398h4v1h-4zM561 399h4v1h-4zM557 400h4v1h-4zM554 401h3v1h-3zM552 402h2v1h-2zM550 403h2v1h-2zM548 404h2v1h-2zM545 405h3v1h-3zM541 406h4v1h-4zM537 407h4v1h-4zM533 408h4v1h-4zM529 409h4v1h-4zM525 410h4v1h-4zM522 411h3v1h-3zM519 412h3v1h-3zM517 413h2v1h-2zM514 414h3v1h-3zM511 415h3v1h-3zM509 416h2v1h-2zM505 417h4v1h-4zM501 418h4v1h-4zM498 419h3v1h-3zM495 420h3v1h-3zM493 421h2v1h-2zM489 422h4v1h-4zM485 423h4v1h-4zM482 424h3v1h-3zM479 425h3v1h-3zM477 426h2v1h-2zM471 427h6v1h-6zM467 428h4v1h-4zM466 429h1v1h-1zM826 324h1v1h-1z" fill="#ff8c00"/>
</g>
<g shape-rendering="crispEdges" clip-path="url(#cs)">
<rect x="3" y="523" width="1" height="8" fill="#c0c0c0"/>
<rect x="11" y="523" width="1" height="8" fill="#c0c0c0"/>
<rect x="19" y="523" width="1" height="8" fill="#c0c0c0"/>
<rect x="27" y="526" width="1" height="5" fill="#c0c0c0"/>
<rect x="35" y="527" width="1" height="4" fill="#c0c0c0"/>
<rect x="43" y="528" width="1" height="3" fill="#c0c0c0"/>
<rect x="51" y="530" width="1" height="1" fill="#c0c0c0"/>
<rect x="59" y="530" width="1" height="3" fill="#c0c0c0"/>
<rect x="67" y="530" width="1" height="1" fill="#c0c0c0"/>
<rect x="75" y="530" width="1" height="1" fill="#c0c0c0"/>
<rect x="83" y="528" width="1" height="3" fill="#c0c0c0"/>
<rect x="91" y="528" width="1" height="3" fill="#c0c0c0"/>
<rect x="99" y="526" width="1" height="5" fill="#c0c0c0"/>
<rect x="107" y="525" width="1" height="6" fill="#c0c0c0"/>
<rect x="115" y="526" width="1" height="5" fill="#c0c0c0"/>
<rect x="123" y="527" width="1" height="4" fill="#c0c0c0"/>
<rect x="131" y="528" width="1" height="3" fill="#c0c0c0"/>
<rect x="139" y="529" width="1" height="2" fill="#c0c0c0"/>
<rect x="147" y="530" width="1" height="1" fill="#c0c0c0"/>
<rect x="155" y="530" width="1" height="1" fill="#c0c0c0"/>
<rect x="163" y="530" width="1" height="1" fill="#c0c0c0"/>
<rect x="171" y="530" width="1" height="1" fill="#c0c0c0"/>
<rect x="179" y="530" width="1" height="1" fill="#c0c0c0"/>
<rect x="187" y="530" width="1" height="1" fill="#c0c0c0"/>
<rect x="195" y="529" width="1" height="2" fill="#c0c0c0"/>
<rect x="203" y="528" width="1" height="3" fill="#c0c0c0"/>
<rect x="211" y="526" width="1" height="5" fill="#c0c0c0"/>
<rect x="219" y="524" width="1" height="7" fill="#c0c0c0"/>
<rect x="227" y="522" width="1" height="9" fill="#c0c0c0"/>
<rect x="235" y="518" width="1" height="13" fill="#c0c0c0"/>
<rect x="243" y="513" width="1" height="18" fill="#c0c0c0"/>
<rect x="251" y="509" width="1" height="22" fill="#c0c0c0"/>
<rect x="259" y="506" width="1" height="25" fill="#c0c0c0"/>
<rect x="267" y="502" width="1" height="29" fill="#c0c0c0"/>
<rect x="275" y="497" width="1" height="34" fill="#c0c0c0"/>
<rect x="283" y="494" width="1" height="37" fill="#c0c0c0"/>
<rect x="291" y="492" width="1" height="39" fill="#c0c0c0"/>
<rect x="299" y="491" width="1" height="40" fill="#c0c0c0"/>
<rect x="307" y="490" width="1" height="41" fill="#c0c0c0"/>
<rect x="315" y="488" width="1" height="43" fill="#c0c0c0"/>
<rect x="323" y="487" width="1" height="44" fill="#c0c0c0"/>
<rect x="331" y="487" width="1" height="44" fill="#c0c0c0"/>
<rect x="339" y="489" width="1" height="42" fill="#c0c0c0"/>
<rect x="347" y="489" width="1" height="42" fill="#c0c0c0"/>
<rect x="355" y="487" width="1" height="44" fill="#c0c0c0"/>
<rect x="363" y="485" width="1" height="46" fill="#c0c0c0"/>
<rect x="371" y="485" width="1" height="46" fill="#c0c0c0"/>
<rect x="379" y="486" width="1" height="45" fill="#c0c0c0"/>
<rect x="387" y="486" width="1" height="45" fill="#c0c0c0"/>
<rect x="395" y="483" width="1" height="48" fill="#c0c0c0"/>
<rect x="403" y="481" width="1" height="50" fill="#c0c0c0"/>
<rect x="411" y="479" width="1" height="52" fill="#c0c0c0"/>
<rect x="419" y="479" width="1" height="52" fill="#c0c0c0"/>
<rect x="427" y="478" width="1" height="53" fill="#c0c0c0"/>
<rect x="435" y="474" width="1" height="57" fill="#c0c0c0"/>
<rect x="443" y="471" width="1" height="60" fill="#c0c0c0"/>
<rect x="451" y="467" width="1" height="64" fill="#c0c0c0"/>
<rect x="459" y="468" width="1" height="63" fill="#c0c0c0"/>
<rect x="467" y="467" width="1" height="64" fill="#c0c0c0"/>
<rect x="475" y="463" width="1" height="68" fill="#c0c0c0"/>
<rect x="483" y="459" width="1" height="72" fill="#c0c0c0"/>
<rect x="491" y="454" width="1" height="77" fill="#c0c0c0"/>
<rect x="499" y="446" width="1" height="85" fill="#c0c0c0"/>
<rect x="507" y="444" width="1" height="87" fill="#c0c0c0"/>
<rect x="515" y="439" width="1" height="92" fill="#c0c0c0"/>
<rect x="523" y="446" width="1" height="85" fill="#c0c0c0"/>
<rect x="531" y="454" width="1" height="77" fill="#c0c0c0"/>
<rect x="539" y="459" width="1" height="72" fill="#c0c0c0"/>
<rect x="547" y="465" width="1" height="66" fill="#c0c0c0"/>
<rect x="555" y="476" width="1" height="55" fill="#c0c0c0"/>
<rect x="563" y="486" width="1" height="45" fill="#c0c0c0"/>
<rect x="571" y="496" width="1" height="35" fill="#c0c0c0"/>
<rect x="579" y="500" width="1" height="31" fill="#c0c0c0"/>
<rect x="587" y="504" width="1" height="27" fill="#c0c0c0"/>
<rect x="595" y="508" width="1" height="23" fill="#c0c0c0"/>
<rect x="603" y="514" width="1" height="17" fill="#c0c0c0"/>
<rect x="611" y="517" width="1" height="14" fill="#c0c0c0"/>
<rect x="619" y="519" width="1" height="12" fill="#c0c0c0"/>
<rect x="627" y="520" width="1" height="11" fill="#c0c0c0"/>
<rect x="635" y="517" width="1" height="14" fill="#c0c0c0"/>
<rect x="643" y="513" width="1" height="18" fill="#c0c0c0"/>
<rect x="651" y="508" width="1" height="23" fill="#c0c0c0"/>
<rect x="659" y="505" width="1" height="26" fill="#c0c0c0"/>
<rect x="667" y="507" width="1" height="24" fill="#c0c0c0"/>
<rect x="675" y="510" width="1" height="21" fill="#c0c0c0"/>
<rect x="683" y="512" width="1" height="19" fill="#c0c0c0"/>
<rect x="691" y="513" width="1" height="18" fill="#c0c0c0"/>
<rect x="699" y="514" width="1" height="17" fill="#c0c0c0"/>
<rect x="707" y="516" width="1" height="15" fill="#c0c0c0"/>
<rect x="715" y="514" width="1" height="17" fill="#c0c0c0"/>
<rect x="723" y="513" width="1" height="18" fill="#c0c0c0"/>
<rect x="731" y="512" width="1" height="19" fill="#c0c0c0"/>
<rect x="739" y="510" width="1" height="21" fill="#c0c0c0"/>
<rect x="747" y="507" width="1" height="24" fill="#c0c0c0"/>
<rect x="755" y="505" width="1" height="26" fill="#c0c0c0"/>
<rect x="763" y="504" width="1" height="27" fill="#c0c0c0"/>
<rect x="771" y="504" width="1" height="27" fill="#c0c0c0"/>
<rect x="779" y="504" width="1" height="27" fill="#c0c0c0"/>
<rect x="787" y="504" width="1" height="27" fill="#c0c0c0"/>
<rect x="795" y="506" width="1" height="25" fill="#c0c0c0"/>
<rect x="803" y="506" width="1" height="25" fill="#c0c0c0"/>
<rect x="811" y="506" width="1" height="25" fill="#c0c0c0"/>
<rect x="819" y="504" width="1" height="27" fill="#c0c0c0"/>
<rect x="827" y="502" width="1" height="29" fill="#c0c0c0"/>
<path d="M537 451h3v1h-3zM543 451h3v1h-3zM531 452h3v1h-3zM549 452h3v1h-3zM525 453h2v1h-2zM555 453h2v1h-2zM519 454h2v1h-2zM514 455h2v1h-2zM562 456h2v1h-2zM508 458h2v1h-2zM501 461h2v1h-2zM495 463h3v1h-3zM573 464h2v1h-2zM490 465h2v1h-2zM484 468h2v1h-2zM477 470h2v1h-2zM471 471h3v1h-3zM465 473h3v1h-3zM585 473h2v1h-2zM459 474h3v1h-3zM453 475h2v1h-2zM447 476h3v1h-3zM441 478h3v1h-3zM435 480h2v1h-2zM423 481h3v1h-3zM429 481h2v1h-2zM417 482h3v1h-3zM411 484h2v1h-2zM393 485h3v1h-3zM399 485h3v1h-3zM405 485h2v1h-2zM375 486h3v1h-3zM381 486h3v1h-3zM387 486h3v1h-3zM363 487h3v1h-3zM369 487h3v1h-3zM351 488h3v1h-3zM357 488h2v1h-2zM345 489h3v1h-3zM339 490h3v1h-3zM333 491h2v1h-2zM327 492h2v1h-2zM321 493h3v1h-3zM609 494h2v1h-2zM315 495h2v1h-2zM310 497h2v1h-2zM303 500h2v1h-2zM298 501h2v1h-2zM825 503h2v1h-2zM292 504h2v1h-2zM801 504h3v1h-3zM807 504h3v1h-3zM813 504h3v1h-3zM819 504h3v1h-3zM795 505h3v1h-3zM627 506h2v1h-2zM783 506h3v1h-3zM789 506h2v1h-2zM285 507h2v1h-2zM777 507h3v1h-3zM771 508h3v1h-3zM280 509h2v1h-2zM634 509h2v1h-2zM765 509h2v1h-2zM639 510h3v1h-3zM699 510h3v1h-3zM705 510h3v1h-3zM711 510h3v1h-3zM717 510h2v1h-2zM759 510h2v1h-2zM645 511h3v1h-3zM681 511h3v1h-3zM687 511h3v1h-3zM693 511h2v1h-2zM723 511h3v1h-3zM729 511h3v1h-3zM747 511h3v1h-3zM753 511h3v1h-3zM274 512h2v1h-2zM651 512h3v1h-3zM657 512h3v1h-3zM663 512h3v1h-3zM669 512h3v1h-3zM675 512h3v1h-3zM735 512h3v1h-3zM741 512h2v1h-2zM267 515h2v1h-2zM262 517h2v1h-2zM255 520h2v1h-2zM250 521h2v1h-2zM243 524h2v1h-2zM27 525h3v1h-3zM33 525h3v1h-3zM39 525h3v1h-3zM45 525h3v1h-3zM51 525h3v1h-3zM237 525h3v1h-3zM15 526h3v1h-3zM21 526h2v1h-2zM57 526h3v1h-3zM63 526h3v1h-3zM69 526h2v1h-2zM135 526h3v1h-3zM141 526h3v1h-3zM147 526h3v1h-3zM231 526h3v1h-3zM9 527h3v1h-3zM75 527h3v1h-3zM129 527h3v1h-3zM153 527h3v1h-3zM159 527h3v1h-3zM165 527h2v1h-2zM225 527h3v1h-3zM3 528h3v1h-3zM81 528h3v1h-3zM87 528h3v1h-3zM93 528h2v1h-2zM105 528h3v1h-3zM111 528h3v1h-3zM117 528h3v1h-3zM123 528h3v1h-3zM171 528h3v1h-3zM177 528h3v1h-3zM219 528h3v1h-3zM99 529h3v1h-3zM183 529h3v1h-3zM189 529h3v1h-3zM195 529h3v1h-3zM201 529h3v1h-3zM207 529h3v1h-3zM213 529h2v1h-2zM23 525h1v1h-1zM71 527h1v1h-1zM95 529h1v1h-1zM167 528h1v1h-1zM215 528h1v1h-1zM245 523h1v1h-1zM249 522h1v1h-1zM257 519h1v1h-1zM261 518h1v1h-1zM269 514h1v1h-1zM273 513h1v1h-1zM279 510h1v1h-1zM287 506h1v1h-1zM291 505h1v1h-1zM297 502h1v1h-1zM305 499h1v1h-1zM309 498h1v1h-1zM317 494h1v1h-1zM329 491h1v1h-1zM335 490h1v1h-1zM359 487h1v1h-1zM407 484h1v1h-1zM413 483h1v1h-1zM431 480h1v1h-1zM437 479h1v1h-1zM455 474h1v1h-1zM479 469h1v1h-1zM483 469h1v1h-1zM489 466h1v1h-1zM503 460h1v1h-1zM507 459h1v1h-1zM513 456h1v1h-1zM521 453h1v1h-1zM527 452h1v1h-1zM557 454h1v1h-1zM561 455h1v1h-1zM567 459h1v1h-1zM568 460h1v1h-1zM569 461h1v1h-1zM575 465h1v1h-1zM579 468h1v1h-1zM580 469h1v1h-1zM581 470h1v1h-1zM587 474h1v1h-1zM591 478h1v1h-1zM592 479h1v1h-1zM593 480h1v1h-1zM597 484h1v1h-1zM598 485h1v1h-1zM599 486h1v1h-1zM603 489h1v1h-1zM604 490h1v1h-1zM605 491h1v1h-1zM611 495h1v1h-1zM615 498h1v1h-1zM616 499h1v1h-1zM617 500h1v1h-1zM621 502h1v1h-1zM622 503h1v1h-1zM623 504h1v1h-1zM629 507h1v1h-1zM633 508h1v1h-1zM695 510h1v1h-1zM719 511h1v1h-1zM743 511h1v1h-1zM761 509h1v1h-1zM767 508h1v1h-1zM791 505h1v1h-1z" fill="#ff0000"/>
</g>
<g shape-rendering="crispEdges" fill="#fff">
<rect x="2" y="2" width="931" height="1"/>
<rect x="2" y="2" width="1" height="429"/>
<rect x="2" y="430" width="931" height="1"/>
<rect x="932" y="2" width="1" height="537"/>
<rect x="2" y="432" width="931" height="1"/>
<rect x="2" y="432" width="1" height="107"/>
<rect x="2" y="538" width="932" height="1"/>
<rect x="2" y="540" width="931" height="1"/>
<rect x="933" y="31" width="2" height="1"/>
<rect x="933" y="64" width="2" height="1"/>
<rect x="933" y="97" width="2" height="1"/>
<rect x="933" y="130" width="2" height="1"/>
<rect x="933" y="163" width="2" height="1"/>
<rect x="933" y="196" width="2" height="1"/>
<rect x="933" y="229" width="2" height="1"/>
<rect x="933" y="262" width="2" height="1"/>
<rect x="933" y="295" width="2" height="1"/>
<rect x="933" y="328" width="2" height="1"/>
<rect x="933" y="361" width="2" height="1"/>
<rect x="933" y="394" width="2" height="1"/>
<rect x="933" y="427" width="2" height="1"/>
<rect x="933" y="434" width="1" height="1"/>
<rect x="933" y="530" width="1" height="1"/>
<rect x="934" y="50" width="41" height="11"/>
<rect x="932" y="55" width="2" height="1" fill="#000"/>
</g>
<text class="t" x="938" y="35" textLength="33" lengthAdjust="spacingAndGlyphs">4359.35</text>
<text class="t" x="938" y="68" textLength="33" lengthAdjust="spacingAndGlyphs">4265.85</text>
<text class="t" x="938" y="101" textLength="33" lengthAdjust="spacingAndGlyphs">4175.10</text>
<text class="t" x="938" y="134" textLength="33" lengthAdjust="spacingAndGlyphs">4081.60</text>
<text class="t" x="938" y="167" textLength="33" lengthAdjust="spacingAndGlyphs">3988.10</text>
<text class="t" x="938" y="200" textLength="33" lengthAdjust="spacingAndGlyphs">3897.35</text>
<text class="t" x="938" y="233" textLength="33" lengthAdjust="spacingAndGlyphs">3803.85</text>
<text class="t" x="938" y="266" textLength="33" lengthAdjust="spacingAndGlyphs">3710.35</text>
<text class="t" x="938" y="299" textLength="33" lengthAdjust="spacingAndGlyphs">3616.85</text>
<text class="t" x="938" y="332" textLength="33" lengthAdjust="spacingAndGlyphs">3526.10</text>
<text class="t" x="938" y="365" textLength="33" lengthAdjust="spacingAndGlyphs">3432.60</text>
<text class="t" x="938" y="398" textLength="33" lengthAdjust="spacingAndGlyphs">3339.10</text>
<text class="t" x="938" y="431" textLength="33" lengthAdjust="spacingAndGlyphs">3248.35</text>
<text class="t" x="938" y="59" style="fill:#000;stroke:#000" textLength="33" lengthAdjust="spacingAndGlyphs">4292.75</text>
<text class="t" x="936.5" y="443" textLength="32.5" lengthAdjust="spacingAndGlyphs">178.886</text>
<text class="t" x="936" y="534" textLength="18" lengthAdjust="spacingAndGlyphs">0.00</text>
<text class="t" x="936" y="535" textLength="21" lengthAdjust="spacingAndGlyphs" style="opacity:.85">1.409</text>
<path d="M6 9h8l-4 4.5z" fill="#fff"/>
<text class="t" x="18" y="14" textLength="186.5" lengthAdjust="spacingAndGlyphs" xml:space="preserve">LLG,Daily  4280.74 4295.57 4264.65 4292.75</text>
<text class="t" x="7.2" y="445" textLength="127.3" lengthAdjust="spacingAndGlyphs">MACD(12,26,9) 53.698 48.995</text>
<g>
<path d="M876.9 519.4 L889.6 506.7 L889.6 509.6 L879.8 519.4Z" fill="#c4c4c4"/>
<path d="M879.8 519.4 L889.6 509.6 L889.6 512.2 L882.4 519.4Z" fill="#5a5a5a"/>
<path d="M902.3 519.4 L889.6 506.7 L889.6 509.6 L899.4 519.4Z" fill="#6a6a6a"/>
<path d="M899.4 519.4 L889.6 509.6 L889.6 512.2 L896.8 519.4Z" fill="#f2f2f2"/>
<path d="M876.9 519.4 L889.6 532.1 L889.6 529.2 L879.8 519.4Z" fill="#dcc31e"/>
<path d="M879.8 519.4 L889.6 529.2 L889.6 526.6 L882.4 519.4Z" fill="#6e5216"/>
<path d="M902.3 519.4 L889.6 532.1 L889.6 529.2 L899.4 519.4Z" fill="#4e3610"/>
<path d="M899.4 519.4 L889.6 529.2 L889.6 526.6 L896.8 519.4Z" fill="#c4a228"/>
<path d="M886.0 519.4 L889.6 515.8 L893.2 519.4 L889.6 523.0Z" fill="none" stroke="#86b82e" stroke-width="1.1"/>
</g>
<text x="908.1" y="517.6" textLength="57.8" lengthAdjust="spacingAndGlyphs" style="font-size:9.4px;font-weight:bold;fill:#fff;stroke:#fff;stroke-width:.45px;text-rendering:geometricPrecision">SINO SOUND</text>
<rect x="914.6" y="510.3" width="1.4" height="1.3" fill="#7ab030"/>
<text x="908.0 924.4 941.2 957.4" y="527.3" style="font-size:8.6px;font-weight:bold;fill:#fff;stroke:#fff;stroke-width:.25px;text-rendering:geometricPrecision">漢聲集團</text>
</svg></body></html>
